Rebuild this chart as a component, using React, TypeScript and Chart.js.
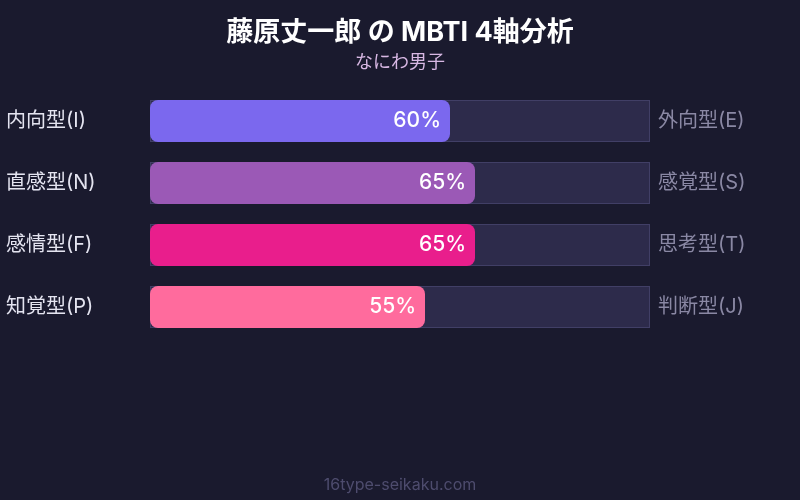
import React, { useEffect, useRef } from "react";
import { Chart, registerables } from "chart.js";

Chart.register(...registerables);

const leftLabels = ["内向型(I)", "直感型(N)", "感情型(F)", "知覚型(P)"];
const rightLabels = ["外向型(E)", "感覚型(S)", "思考型(T)", "判断型(J)"];
const values = [60, 65, 65, 55];
const trackValues = [100, 100, 100, 100];
const barColors = ["#7b68ee", "#9b59b6", "#e91e8c", "#ff6b9d"];
const titleText = "藤原丈一郎 の MBTI 4軸分析";
const subtitleText = "なにわ男子";
const footerText = "16type-seikaku.com";

const FONT = "Inter, 'Noto Sans CJK JP', sans-serif";

const textPlugin = {
  id: "textPlugin",
  afterDraw(chart: any) {
    const ctx = chart.ctx;
    ctx.save();
    ctx.textAlign = "center";
    ctx.textBaseline = "middle";
    ctx.fillStyle = "#ffffff";
    ctx.font = `bold 27px ${FONT}`;
    ctx.fillText(titleText, 400, 33);
    ctx.fillStyle = "#d8b8e4";
    ctx.font = `18px ${FONT}`;
    ctx.fillText(subtitleText, 400, 63);
    ctx.fillStyle = "#4e4c6e";
    ctx.font = `16px ${FONT}`;
    ctx.fillText(footerText, 400, 485);

    const meta = chart.getDatasetMeta(0);
    ctx.textAlign = "right";
    ctx.fillStyle = "#ffffff";
    ctx.font = `500 21px ${FONT}`;
    meta.data.forEach((bar: any, i: number) => {
      ctx.fillText(`${values[i]}%`, bar.x - 9, bar.y);
    });
    ctx.restore();
  },
};

export default function App() {
  const ref = useRef<HTMLCanvasElement | null>(null);
  useEffect(() => {
    if (!ref.current) return;
    const chart = new Chart(ref.current, {
      type: "bar",
      data: {
        labels: leftLabels,
        datasets: [
          {
            data: values,
            backgroundColor: barColors,
            borderRadius: 8,
            borderSkipped: false,
            borderWidth: 0,
            grouped: false,
            barPercentage: 0.68,
            categoryPercentage: 1,
            yAxisID: "y",
          },
          {
            data: trackValues,
            backgroundColor: "#2d2b4b",
            borderColor: "#413f66",
            borderWidth: 1,
            borderSkipped: false,
            grouped: false,
            barPercentage: 0.68,
            categoryPercentage: 1,
            yAxisID: "y",
          },
        ],
      },
      options: {
        indexAxis: "y",
        animation: false,
        responsive: false,
        maintainAspectRatio: false,
        layout: { padding: { left: 6, right: 0, top: 90, bottom: 162 } },
        plugins: {
          legend: { display: false },
          tooltip: { enabled: false },
          title: { display: false },
        },
        scales: {
          x: { min: 0, max: 100, display: false },
          y: {
            type: "category",
            position: "left",
            grid: { display: false },
            border: { display: false },
            ticks: {
              crossAlign: "far",
              color: "#e4e4f0",
              font: { family: FONT, size: 20 },
              padding: 0,
            },
            afterFit: (s: any) => {
              s.width = 144;
            },
          },
          y2: {
            type: "category",
            position: "right",
            labels: rightLabels,
            offset: true,
            grid: { display: false },
            border: { display: false },
            ticks: {
              crossAlign: "near",
              color: "#8a88a4",
              font: { family: FONT, size: 20 },
              padding: 0,
            },
            afterFit: (s: any) => {
              s.width = 150;
            },
          },
        },
      },
      plugins: [textPlugin],
    } as any);
    return () => chart.destroy();
  }, []);
  return (
    <div
      style={{
        position: "fixed",
        left: 0,
        top: 0,
        width: 800,
        height: 500,
        background: "#1a1a2e",
      }}
    >
      <canvas ref={ref} width={800} height={500} style={{ display: "block" }} />
    </div>
  );
}
